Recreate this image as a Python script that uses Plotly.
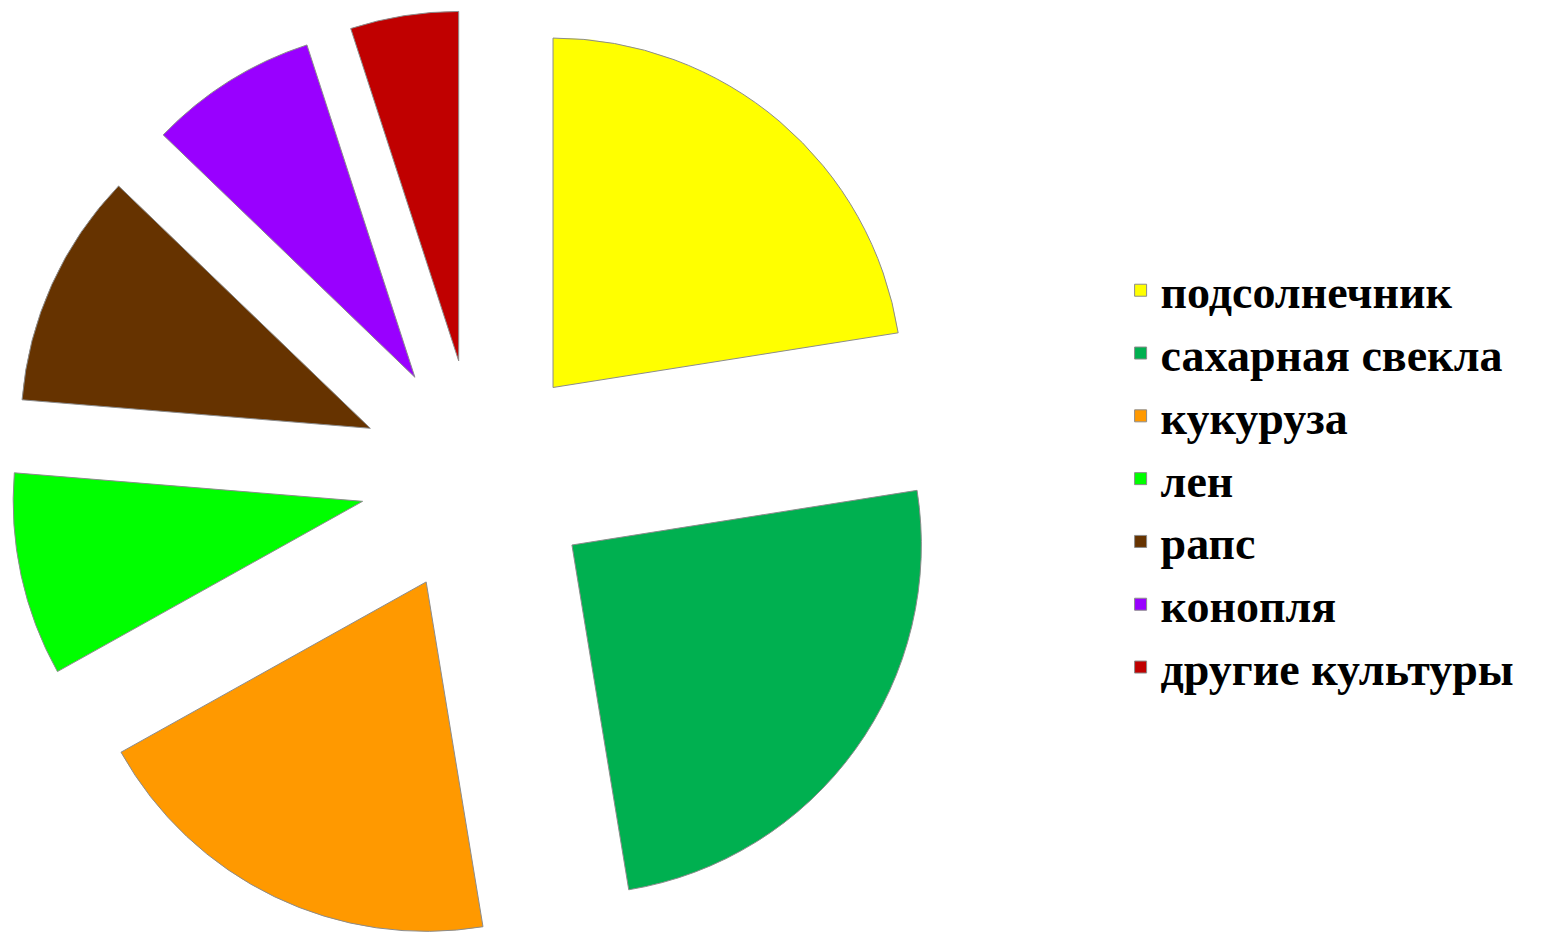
import plotly.graph_objects as go

labels = ["подсолнечник", "сахарная свекла", "кукуруза", "лен", "рапс", "конопля", "другие культуры"]
values = [22.5, 24.9, 19.5, 9.4, 10.9, 7.8, 5.0]
colors = ["#FFFF00", "#00B050", "#FF9900", "#00FF00", "#663300", "#9900FF", "#C00000"]

fig = go.Figure(go.Pie(
    labels=labels,
    values=values,
    sort=False,
    direction="clockwise",
    rotation=0,
    pull=[0.335] * len(values),
    marker=dict(colors=colors, line=dict(color="#8c8c8c", width=1)),
    textinfo="none",
    hoverinfo="label+percent",
    domain=dict(x=[0.0, 0.6087], y=[0.0, 1.0]),
))

fig.update_layout(
    width=1541,
    height=935,
    margin=dict(l=0, r=0, t=2, b=0),
    paper_bgcolor="#ffffff",
    plot_bgcolor="#ffffff",
    showlegend=True,
    legend=dict(
        x=0.722, xanchor="left",
        y=0.4975, yanchor="middle",
        font=dict(family="Liberation Serif", size=46, color="#000000", weight="bold"),
        bgcolor="rgba(0,0,0,0)",
        itemwidth=30,
        tracegroupgap=0,
    ),
)

fig.write_html("out.html")
